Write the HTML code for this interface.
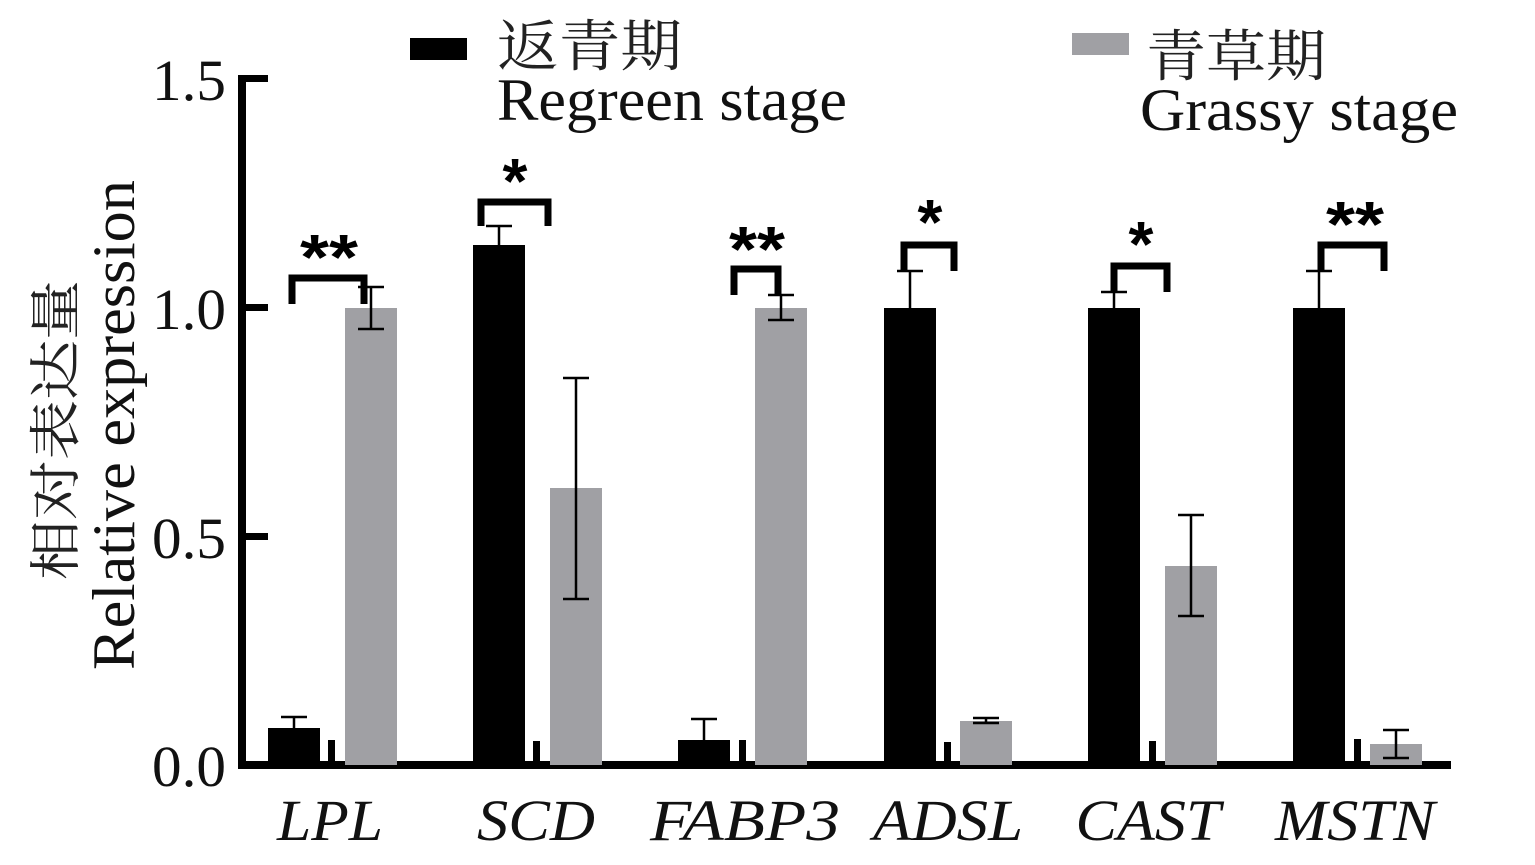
<!DOCTYPE html>
<html><head><meta charset="utf-8"><style>
html,body{margin:0;padding:0;background:#fff;}
svg{display:block;}
</style></head><body>
<svg width="1535" height="865" viewBox="0 0 1535 865" xmlns="http://www.w3.org/2000/svg">
<g font-family="Liberation Serif, 'Noto Serif CJK SC', serif" fill="#111">
<!-- axes -->
<rect x="238" y="76" width="8" height="693" fill="#000"/>
<rect x="238" y="761" width="1213" height="8" fill="#000"/>
<rect x="238" y="75" width="30" height="7" fill="#000"/>
<rect x="238" y="304" width="30" height="7" fill="#000"/>
<rect x="238" y="533" width="30" height="7" fill="#000"/>
<text x="226" y="100" font-size="58" text-anchor="end" textLength="74" lengthAdjust="spacingAndGlyphs">1.5</text>
<text x="226" y="329" font-size="58" text-anchor="end" textLength="74" lengthAdjust="spacingAndGlyphs">1.0</text>
<text x="226" y="558" font-size="58" text-anchor="end" textLength="74" lengthAdjust="spacingAndGlyphs">0.5</text>
<text x="226" y="786" font-size="58" text-anchor="end" textLength="74" lengthAdjust="spacingAndGlyphs">0.0</text>
<text transform="translate(74,580) rotate(-90)" font-size="52" textLength="300" lengthAdjust="spacingAndGlyphs" font-family="'Noto Serif CJK SC', serif" fill="#222">相对表达量</text>
<text transform="translate(134,670) rotate(-90)" font-size="60" textLength="490" lengthAdjust="spacingAndGlyphs">Relative expression</text>
<!-- legend -->
<rect x="410" y="38" width="57" height="22" fill="#000"/>
<text x="497" y="66" font-size="56" font-family="'Noto Serif CJK SC', serif" textLength="185" lengthAdjust="spacingAndGlyphs" fill="#222">返青期</text>
<text x="497" y="120" font-size="60" textLength="350" lengthAdjust="spacingAndGlyphs">Regreen stage</text>
<rect x="1072" y="33" width="57" height="22" fill="#a0a0a4"/>
<text x="1146" y="76" font-size="56" font-family="'Noto Serif CJK SC', serif" textLength="180" lengthAdjust="spacingAndGlyphs" fill="#222">青草期</text>
<text x="1140" y="130" font-size="60" textLength="318" lengthAdjust="spacingAndGlyphs">Grassy stage</text>
<!-- bars -->
<g fill="#000">
<rect x="268" y="728" width="52" height="37"/>
<rect x="473" y="245" width="52" height="520"/>
<rect x="678" y="740" width="52" height="25"/>
<rect x="884" y="308" width="52" height="457"/>
<rect x="1088" y="308" width="52" height="457"/>
<rect x="1293" y="308" width="52" height="457"/>
<rect x="328" y="740" width="7" height="25"/>
<rect x="533" y="741" width="7" height="24"/>
<rect x="739" y="740" width="7" height="25"/>
<rect x="944" y="742" width="7" height="23"/>
<rect x="1149" y="741" width="7" height="24"/>
<rect x="1354" y="739" width="7" height="26"/>
</g>
<g fill="#a0a0a4">
<rect x="345" y="308" width="52" height="457"/>
<rect x="550" y="488" width="52" height="277"/>
<rect x="755" y="308" width="52" height="457"/>
<rect x="960" y="721" width="52" height="44"/>
<rect x="1165" y="566" width="52" height="199"/>
<rect x="1370" y="744" width="52" height="21"/>
</g>
<!-- error bars -->
<g stroke="#000" stroke-width="2.5" fill="none">
<path d="M294 728V717M281 717H307"/>
<path d="M371 329V287M358 287H384M358 329H384"/>
<path d="M499 245V226M486 226H512"/>
<path d="M576 599V378M563 378H589M563 599H589"/>
<path d="M704 740V719M691 719H717"/>
<path d="M781 320V295M768 295H794M768 320H794"/>
<path d="M910 308V271M897 271H923"/>
<path d="M986 723V718M973 718H999M973 723H999"/>
<path d="M1114 308V292M1101 292H1127"/>
<path d="M1191 616V515M1178 515H1204M1178 616H1204"/>
<path d="M1319 308V271M1306 271H1332"/>
<path d="M1396 758V730M1383 730H1409M1383 758H1409"/>
</g>
<!-- brackets -->
<g stroke="#000" stroke-width="7" fill="none">
<path d="M292 304V278H364V304"/>
<path d="M481 226V202H548V226"/>
<path d="M734 295V269H778V295"/>
<path d="M904 271V245H954V271"/>
<path d="M1114 292V266H1167V292"/>
<path d="M1321 271V245H1384V271"/>
</g>
<g font-family="Liberation Sans, sans-serif" font-weight="bold" font-size="64" fill="#000" text-anchor="middle">
<text x="329" y="279" textLength="58" lengthAdjust="spacingAndGlyphs">**</text>
<text x="515" y="203">*</text>
<text x="757" y="271" textLength="56" lengthAdjust="spacingAndGlyphs">**</text>
<text x="930" y="244">*</text>
<text x="1141" y="266">*</text>
<text x="1355" y="246" textLength="58" lengthAdjust="spacingAndGlyphs">**</text>
</g>
<!-- x labels -->
<g font-style="italic" font-size="58" text-anchor="middle">
<text x="330" y="840" textLength="106" lengthAdjust="spacingAndGlyphs">LPL</text>
<text x="536" y="840" textLength="118" lengthAdjust="spacingAndGlyphs">SCD</text>
<text x="745" y="840" textLength="190" lengthAdjust="spacingAndGlyphs">FABP3</text>
<text x="948" y="840" textLength="150" lengthAdjust="spacingAndGlyphs">ADSL</text>
<text x="1148" y="840" textLength="145" lengthAdjust="spacingAndGlyphs">CAST</text>
<text x="1355" y="840" textLength="160" lengthAdjust="spacingAndGlyphs">MSTN</text>
</g>
</g>
</svg>
</body></html>
